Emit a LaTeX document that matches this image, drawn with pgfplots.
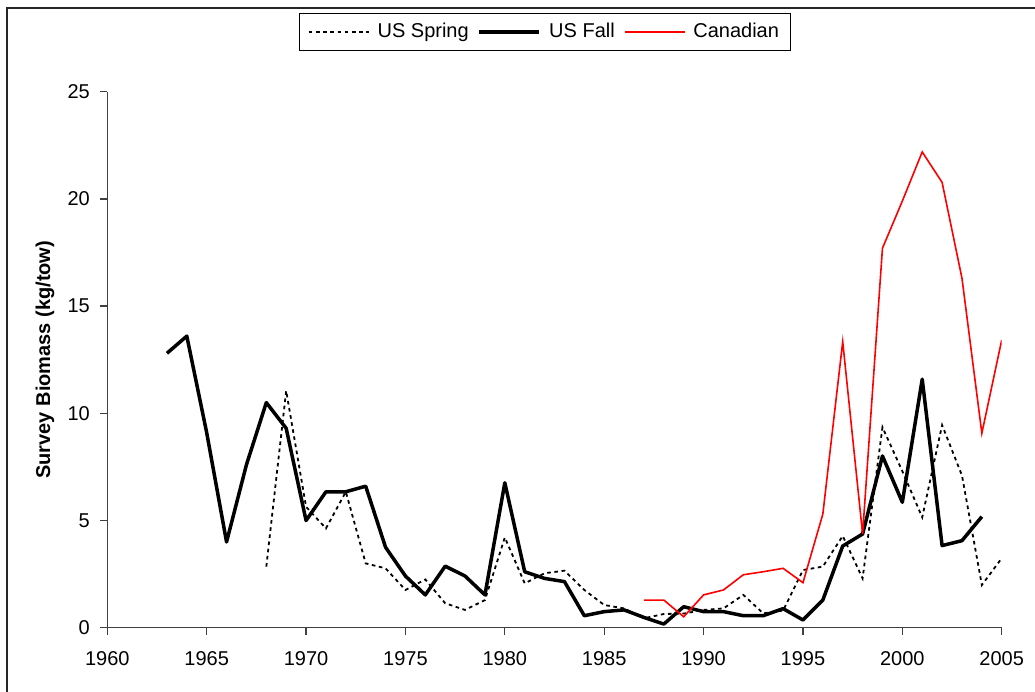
\documentclass[border=0pt]{standalone}
\usepackage{fontspec}
\setmainfont{Liberation Sans}
\usepackage{pgfplots}
\pgfplotsset{compat=1.18}
\newcommand{\chartfont}{\fontsize{10bp}{12bp}\selectfont}
\begin{document}
\begin{tikzpicture}[x=1bp,y=1bp]
\useasboundingbox (0,0) rectangle (517.5,345.5);
\begin{scope}
\clip (0,0) rectangle (517.5,345.5);
\draw[line width=1bp, black!85] (3.5,341.5) rectangle (540,-20);
\end{scope}
\begin{axis}[
  at={(53.65bp,31.65bp)}, anchor=south west,
  scale only axis, width=447.2bp, height=268bp,
  xmin=1960, xmax=2005, ymin=0, ymax=25,
  xtick={1960,1965,...,2005}, ytick={0,5,...,25},
  axis x line*=bottom, axis y line*=left,
  axis line style={line width=0.65bp, black!75, -},
  every outer x axis line/.append style={-},
  every outer y axis line/.append style={-},
  tick style={line width=0.65bp, black!75},
  tick align=outside, major tick length=3.5bp,
  /pgf/number format/assume math mode=true,
  /pgf/number format/1000 sep={},
  ticklabel style={font=\chartfont},
  xticklabel style={yshift=-4.9bp},
  yticklabel style={xshift=-1.7bp},
  ylabel={Survey Biomass (kg/tow)},
  ylabel style={font=\chartfont\bfseries, at={(axis description cs:-0.0697,0.5)}, anchor=center},
  legend columns=3,
  legend style={at={(axis description cs:0.4898,1.1474)}, anchor=north,
    draw=black, line width=0.5bp, font=\chartfont,
    inner xsep=4bp, inner ysep=3bp,
    /tikz/every even column/.append style={column sep=2.5bp}},
  legend image code/.code={\draw[#1] (0bp,0bp) -- (30bp,0bp); \path (32bp,0bp);},
]
\addplot[black, line width=0.9bp, dash pattern=on 1.8bp off 1.8bp, mark=none] coordinates {
(1968,2.85) (1969,11.05) (1970,5.64) (1971,4.63) (1972,6.34) (1973,3.0)
(1974,2.77) (1975,1.76) (1976,2.25) (1977,1.14) (1978,0.83) (1979,1.29)
(1980,4.21) (1981,2.07) (1982,2.54) (1983,2.66) (1984,1.76) (1985,1.06)
(1986,0.90) (1987,0.44) (1988,0.64) (1989,0.66) (1990,0.83) (1991,0.90)
(1992,1.53) (1993,0.67) (1994,0.80) (1995,2.69) (1996,2.85) (1997,4.28)
(1998,2.30) (1999,9.35) (2000,7.30) (2001,5.15) (2002,9.45) (2003,7.10)
(2004,1.99) (2005,3.24)
};
\addlegendentry{US Spring}
\addplot[black, line width=1.75bp, line join=round, mark=none] coordinates {
(1963,12.8) (1964,13.6) (1965,9.1) (1966,4.0) (1967,7.6) (1968,10.5)
(1969,9.3) (1970,5.0) (1971,6.34) (1972,6.34) (1973,6.6) (1974,3.75)
(1975,2.41) (1976,1.53) (1977,2.87) (1978,2.41) (1979,1.53) (1980,6.76)
(1981,2.61) (1982,2.30) (1983,2.15) (1984,0.56) (1985,0.75) (1986,0.83)
(1987,0.48) (1988,0.17) (1989,0.98) (1990,0.75) (1991,0.75) (1992,0.56)
(1993,0.56) (1994,0.89) (1995,0.36) (1996,1.29) (1997,3.81) (1998,4.37)
(1999,8.01) (2000,5.85) (2001,11.59) (2002,3.83) (2003,4.06) (2004,5.18)
};
\addlegendentry{US Fall}
\addplot[red, line width=0.8bp, mark=none] coordinates {
(1987,1.29) (1988,1.29) (1989,0.51) (1990,1.53) (1991,1.76) (1992,2.47)
(1993,2.61) (1994,2.77) (1995,2.10) (1996,5.30) (1997,13.34) (1998,4.37)
(1999,17.70) (2000,19.9) (2001,22.19) (2002,20.77) (2003,16.30) (2004,9.07)
(2005,13.42)
};
\addlegendentry{Canadian}
\end{axis}
\end{tikzpicture}
\end{document}
